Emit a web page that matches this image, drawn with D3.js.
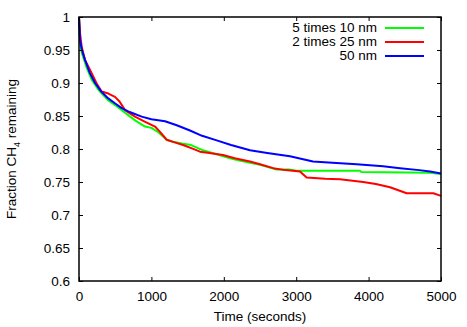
<!DOCTYPE html>
<html>
<head>
<meta charset="utf-8">
<script src="https://cdn.jsdelivr.net/npm/d3@7"></script>
<style>
  html, body { margin: 0; padding: 0; background: #fff; overflow: hidden; }
  svg { display: block; }
  text { font-family: "Liberation Sans", Arial, sans-serif; fill: #000; }
</style>
</head>
<body>
<svg id="chart" width="467" height="327"></svg>
<script>
// values: [time (s), fraction remaining]
const green10nm = [[0,1],[15,0.96],[40,0.945],[100,0.925],[175,0.905],[280,0.888],[400,0.874],[520,0.865],[635,0.855],[780,0.843],[912,0.834],[1000,0.832],[1100,0.825],[1211,0.814],[1300,0.811],[1437,0.808],[1550,0.806],[1713,0.798],[1900,0.792],[2086,0.786],[2200,0.783],[2362,0.779],[2500,0.776],[2730,0.769],[2900,0.769],[3006,0.767],[3881,0.767],[3900,0.765],[4848,0.764],[5000,0.762]];
const red25nm = [[0,1],[15,0.975],[37,0.955],[83,0.935],[175,0.915],[250,0.898],[313,0.887],[405,0.884],[497,0.879],[560,0.872],[600,0.865],[635,0.859],[773,0.849],[900,0.842],[1050,0.834],[1119,0.826],[1211,0.814],[1320,0.81],[1437,0.806],[1560,0.801],[1671,0.796],[1800,0.794],[1990,0.791],[2150,0.786],[2362,0.781],[2500,0.777],[2683,0.771],[2850,0.768],[3052,0.766],[3144,0.757],[3400,0.755],[3605,0.754],[3925,0.75],[4100,0.747],[4296,0.742],[4526,0.733],[4894,0.733],[5000,0.729]];
const blue50nm = [[0,1],[15,0.965],[40,0.95],[83,0.935],[150,0.915],[221,0.9],[300,0.888],[400,0.877],[500,0.869],[590,0.862],[700,0.856],[866,0.849],[1000,0.845],[1188,0.842],[1350,0.836],[1533,0.828],[1700,0.82],[1902,0.813],[2100,0.806],[2362,0.798],[2600,0.794],[2914,0.789],[3232,0.781],[3500,0.779],[3835,0.777],[4200,0.774],[4434,0.771],[4700,0.768],[4850,0.766],[5000,0.763]];

const seriesNames = ["5 times 10 nm", "2 times 25 nm", "50 nm"];
const seriesColors = ["#00ff00", "#ff0000", "#0000ff"];
const seriesData = [green10nm, red25nm, blue50nm];

const xTicks = [0, 1000, 2000, 3000, 4000, 5000];
const yTicks = [0.6, 0.65, 0.7, 0.75, 0.8, 0.85, 0.9, 0.95, 1];

const svg = d3.select("#chart");
const margin = { top: 17, right: 26, bottom: 46, left: 79 };
const width = 467, height = 327;
const innerWidth = width - margin.left - margin.right;
const innerHeight = height - margin.top - margin.bottom;

const x = d3.scaleLinear().domain([0, 5000]).range([0, innerWidth]);
const y = d3.scaleLinear().domain([0.6, 1]).range([innerHeight, 0]);

const g = svg.append("g").attr("transform", `translate(${margin.left},${margin.top})`);

// curves
const line = d3.line().x(d => x(d[0])).y(d => y(d[1]));
seriesData.forEach((data, i) => {
  g.append("path")
    .datum(data)
    .attr("fill", "none")
    .attr("stroke", seriesColors[i])
    .attr("stroke-width", 2)
    .attr("stroke-linejoin", "round")
    .attr("d", line);
});

// axes, gnuplot style: ticks inside and mirrored on top/right
const tickLen = 4;
const fmtY = d => d === 1 ? "1" : String(+d.toFixed(2));

const xAxis = g.append("g").attr("transform", `translate(0,${innerHeight})`)
  .call(d3.axisBottom(x).tickValues(xTicks).tickSize(-tickLen).tickPadding(10).tickFormat(d3.format("d")));
const xTop = g.append("g")
  .call(d3.axisTop(x).tickValues(xTicks).tickSize(-tickLen));
const yAxis = g.append("g")
  .call(d3.axisLeft(y).tickValues(yTicks).tickSize(-tickLen).tickPadding(9).tickFormat(fmtY));
const yRight = g.append("g").attr("transform", `translate(${innerWidth},0)`)
  .call(d3.axisRight(y).tickValues(yTicks).tickSize(-tickLen));

// mirror axes carry ticks only
xTop.selectAll("text").remove();
yRight.selectAll("text").remove();

[xAxis, xTop, yAxis, yRight].forEach(a => {
  a.select(".domain").remove();
  a.attr("font-size", null).attr("font-family", null);
  a.selectAll("line").attr("stroke", "#000").attr("stroke-width", 1);
  a.selectAll("text").style("font-size", "13.5px");
});

g.append("rect")
  .attr("width", innerWidth).attr("height", innerHeight)
  .attr("fill", "none").attr("stroke", "#000").attr("stroke-width", 1.5);

// axis titles
svg.append("text")
  .attr("x", margin.left + innerWidth / 2).attr("y", 321)
  .attr("text-anchor", "middle").style("font-size", "13.5px")
  .text("Time (seconds)");

const yl = svg.append("text")
  .attr("transform", `translate(16,${margin.top + innerHeight / 2}) rotate(-90)`)
  .attr("text-anchor", "middle").style("font-size", "13.5px");
yl.append("tspan").text("Fraction CH");
yl.append("tspan").attr("dy", 4).style("font-size", "9px").text("4");
yl.append("tspan").attr("dy", -4).text(" remaining");

// legend
const legend = svg.append("g");
seriesNames.forEach((name, i) => {
  const by = 32 + i * 14;
  legend.append("text")
    .attr("x", 377).attr("y", by)
    .attr("text-anchor", "end").style("font-size", "13.5px")
    .text(name);
  legend.append("line")
    .attr("x1", 385).attr("x2", 424)
    .attr("y1", by - 4).attr("y2", by - 4)
    .attr("stroke", seriesColors[i]).attr("stroke-width", 2);
});
</script>
</body>
</html>
